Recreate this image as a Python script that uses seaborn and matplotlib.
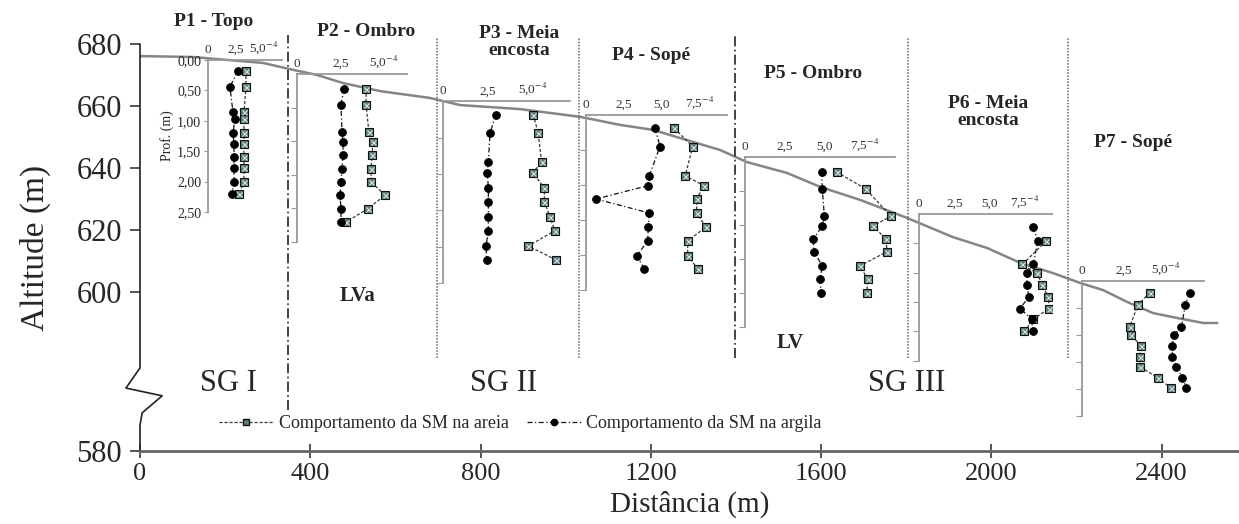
import matplotlib
matplotlib.use('Agg')
import matplotlib.pyplot as plt
import seaborn as sns
from matplotlib.lines import Line2D

# terrain profile along the transect
terrain_x = [0, 125, 235, 289, 352, 416, 477, 564, 681, 752, 893, 1034, 1128, 1205,
             1285, 1363, 1426, 1520, 1598, 1692, 1802, 1910, 1990, 2068, 2145, 2209,
             2263, 2319, 2380, 2437, 2498, 2531]
terrain_alt = [676.1, 675.8, 674.5, 673.9, 671.9, 670.0, 667.4, 664.8, 662.6, 660.3,
               659.0, 656.5, 653.9, 652.3, 649.0, 645.8, 641.9, 638.4, 633.9, 629.7,
               623.9, 617.7, 614.2, 609.4, 606.1, 602.9, 600.6, 596.8, 593.2, 591.6,
               590.0, 590.0]

# boundaries between positions (distance, m)
limites_x = [348, 698, 1031, 1398, 1804, 2180]

# SM profiles (depth in m, values x1e-4)
p1_depth = [0.18, 0.44, 0.86, 0.97, 1.20, 1.38, 1.60, 1.78, 2.01, 2.20]
p1_areia = [3.39, 3.39, 3.21, 3.21, 3.21, 3.21, 3.21, 3.21, 3.21, 2.77]
p1_argila = [2.68, 1.96, 2.23, 2.41, 2.23, 2.32, 2.32, 2.32, 2.32, 2.14]

p2_depth = [0.22, 0.46, 0.87, 1.01, 1.21, 1.42, 1.61, 1.81, 2.01, 2.21]
p2_areia = [3.99, 3.99, 4.16, 4.39, 4.34, 4.28, 4.28, 5.09, 4.10, 2.83]
p2_argila = [2.72, 2.54, 2.60, 2.66, 2.66, 2.60, 2.54, 2.49, 2.54, 2.54]

p3_depth = [0.18, 0.44, 0.84, 0.98, 1.19, 1.38, 1.59, 1.78, 1.99, 2.18]
p3_areia = [5.02, 5.29, 5.48, 4.98, 5.63, 5.63, 5.94, 6.22, 4.74, 6.26]
p3_argila = [2.93, 2.61, 2.52, 2.46, 2.52, 2.52, 2.52, 2.52, 2.39, 2.43]

p4_depth = [0.19, 0.45, 0.87, 1.01, 1.20, 1.40, 1.60, 1.80, 2.01, 2.20]
p4_areia = [5.81, 7.02, 6.53, 7.76, 7.28, 7.28, 7.89, 6.69, 6.69, 7.35]
p4_argila = [4.54, 4.87, 4.16, 4.06, 0.66, 4.16, 4.10, 4.06, 3.34, 3.84]

p5_depth = [0.22, 0.47, 0.87, 1.01, 1.21, 1.39, 1.60, 1.80, 2.00]
p5_areia = [5.73, 7.54, 9.13, 8.02, 8.79, 8.89, 7.19, 7.67, 7.61]
p5_argila = [4.79, 4.83, 4.96, 4.83, 4.27, 4.31, 4.83, 4.69, 4.75]

p6_depth = [0.22, 0.46, 0.86, 1.01, 1.21, 1.41, 1.61, 1.79, 2.00]
p6_areia = [None, 9.01, 7.33, 8.39, 8.74, 9.17, 9.24, 8.11, 7.47]
p6_argila = [8.11, 8.42, 8.11, 7.68, 7.64, 7.80, 7.16, 7.99, 8.06]

p7_depth = [0.22, 0.45, 0.85, 1.01, 1.20, 1.41, 1.59, 1.80, 1.98]
p7_areia = [4.03, 3.33, 2.84, 2.94, 3.49, 3.43, 3.43, 4.52, 5.28]
p7_argila = [6.41, 6.15, 5.92, 5.46, 5.38, 5.38, 5.62, 5.98, 6.21]

titles = ['P1 - Topo', 'P2 - Ombro', 'P3 - Meia\nencosta', 'P4 - Sopé',
          'P5 - Ombro', 'P6 - Meia\nencosta', 'P7 - Sopé']
profiles = [(p1_depth, p1_areia, p1_argila), (p2_depth, p2_areia, p2_argila),
            (p3_depth, p3_areia, p3_argila), (p4_depth, p4_areia, p4_argila),
            (p5_depth, p5_areia, p5_argila), (p6_depth, p6_areia, p6_argila),
            (p7_depth, p7_areia, p7_argila)]

# inset layout in pixels: left, top, px per unit, xmax, px per metre
inset_layout = [(208, 60, 11.2, 6.6, 60.8), (297, 74, 17.3, 6.36, 67),
                (443, 101.5, 18, 7.05, 72.6), (586, 115, 15.2, 9.26, 70),
                (745, 157, 16, 9.37, 68), (919, 214, 14.1, 9.41, 58.7),
                (1082, 280.7, 16.8, 7.26, 54)]
title_pos = [(214, 22), (366, 32), (519, 42), (651, 56), (813, 73), (988, 112), (1133, 142)]

sns.set_style('ticks')
plt.rcParams['font.family'] = ['Liberation Serif', 'DejaVu Serif']
plt.rcParams['mathtext.fontset'] = 'stix'

W, H = 1239, 524
fig = plt.figure(figsize=(W / 100, H / 100), dpi=100)

# main axes
ax = fig.add_axes([140 / W, 1 - 451 / H, (W - 140) / W, (451 - 44) / H])
sns.lineplot(x=terrain_x, y=terrain_alt, sort=False, estimator=None,
             color='#858585', lw=1.8, ax=ax)
ax.set_xlim(0, 2582)
ax.set_ylim(548.7, 680)
for s in ['top', 'right', 'left']:
    ax.spines[s].set_visible(False)
ax.spines['bottom'].set_color('#666666')
ax.spines['bottom'].set_linewidth(2)

# broken y axis
ax.plot([0, 0, -33, 52, 5, 0, 0], [680, 575.5, 569.0, 566.5, 561.0, 557, 548.7],
        color='#222222', lw=1.2, clip_on=False)
ax.set_yticks([548.7, 600, 620, 640, 660, 680])
ax.set_yticklabels(['580', '600', '620', '640', '660', '680'])
ax.set_xticks(range(0, 2401, 400))
ax.tick_params(axis='y', direction='out', length=7, width=1.1, labelsize=22, pad=6)
ax.tick_params(axis='x', direction='inout', length=10, width=1.1, labelsize=19, pad=4)
ax.set_ylabel('Altitude (m)', fontsize=24, labelpad=18)
ax.set_xlabel('Distância (m)', fontsize=21, labelpad=4)

for i, xb in enumerate(limites_x):
    if i in (0, 3):
        ax.vlines(xb, 561.9 if i == 0 else 578.7, 682.8, color='#222222', lw=1.2,
                  linestyles=[(0, (6, 2, 1, 2))], clip_on=False)
    else:
        ax.vlines(xb, 578.7, 682.2, color='#666666', lw=1.1,
                  linestyles=[(0, (1, 1))], clip_on=False)

ax.text(207, 570.6, 'SG I', fontsize=22, ha='center', va='center')
ax.text(855, 570.6, 'SG II', fontsize=22, ha='center', va='center')
ax.text(1802, 570.6, 'SG III', fontsize=22, ha='center', va='center')
ax.text(510, 598.7, 'LVa', fontsize=15, fontweight='bold', ha='center', va='center')
ax.text(1527, 583.5, 'LV', fontsize=15, fontweight='bold', ha='center', va='center')

# profile insets
for k, ((depth, areia, argila), (L, T, ppu, xmax, ppm)) in enumerate(zip(profiles, inset_layout)):
    w = xmax * ppu
    h = 2.5 * ppm
    ai = fig.add_axes([L / W, 1 - (T + h) / H, w / W, h / H])
    ai.patch.set_alpha(0)
    d_a = [d for d, v in zip(depth, areia) if v is not None]
    v_a = [v for v in areia if v is not None]
    sns.lineplot(x=v_a, y=d_a, sort=False, estimator=None, ax=ai,
                 color='#3a3a3a', lw=0.9, linestyle=(0, (2.5, 1.5)),
                 marker='s', markersize=6, markerfacecolor='#5e7d7b',
                 markeredgecolor='#111111', markeredgewidth=0.8)
    ai.plot(v_a, d_a, ls='none', marker='x', ms=3.6, mew=0.8, color='#d5e4e2')
    sns.lineplot(x=argila, y=depth, sort=False, estimator=None, ax=ai,
                 color='#111111', lw=0.9, linestyle=(0, (4, 2, 1, 2)),
                 marker='o', markersize=5.5, markerfacecolor='black',
                 markeredgecolor='black')
    ai.set_xlim(0, xmax)
    ai.set_ylim(2.5, 0)
    ai.xaxis.tick_top()
    if xmax > 8:
        ai.set_xticks([0, 2.5, 5.0, 7.5])
        ai.set_xticklabels(['0', '2,5', '5,0', r'7,5$^{-4}$'])
    else:
        ai.set_xticks([0, 2.5, 5.0])
        ai.set_xticklabels(['0', '2,5', r'5,0$^{-4}$'])
    ai.tick_params(axis='x', length=0, labelsize=9.5, pad=3, colors='#333333')
    for s in ['right', 'bottom']:
        ai.spines[s].set_visible(False)
    for s in ['top', 'left']:
        ai.spines[s].set_color('#999999')
        ai.spines[s].set_linewidth(1.3)
    if k == 0:
        ai.set_yticks([0, 0.5, 1.0, 1.5, 2.0, 2.5])
        ai.set_yticklabels(['0,00', '0,50', '1,00', '1,50', '2,00', '2,50'])
        ai.set_ylabel('Prof. (m)', fontsize=10, labelpad=2)
        ai.tick_params(axis='y', length=3, labelsize=10, pad=2, color='#999999')
    else:
        ai.set_yticks([0.5, 1.0, 1.5, 2.0, 2.5])
        ai.set_yticklabels([])
        ai.tick_params(axis='y', length=4, color='#999999')
    ai.set_xlabel('')

for t, (tx, ty) in zip(titles, title_pos):
    fig.text(tx / W, 1 - ty / H, t, ha='center', va='center', fontsize=14,
             fontweight='bold', linespacing=1.0)

h_areia = Line2D([], [], color='#3a3a3a', lw=0.9, ls=(0, (2.5, 1.5)), marker='s',
                 ms=5, mfc='#5e7d7b', mec='#111111')
h_argila = Line2D([], [], color='#111111', lw=0.9, ls=(0, (4, 2, 1, 2)), marker='o',
                  ms=4.5, mfc='black', mec='black')
fig.legend([h_areia, h_argila],
           ['Comportamento da SM na areia', 'Comportamento da SM na argila'],
           loc='center left', bbox_to_anchor=(212 / W, 1 - 424 / H), ncol=2,
           frameon=False, fontsize=13, handlelength=3.0, columnspacing=1.0,
           handletextpad=0.3, borderaxespad=0)

fig.savefig('out.png', dpi=100)
